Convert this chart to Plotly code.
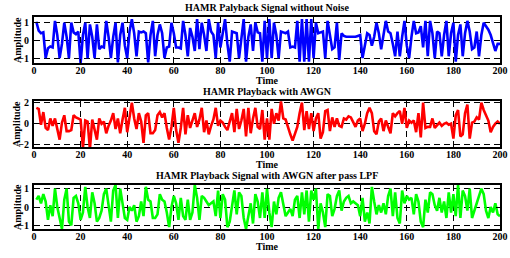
import plotly.graph_objects as go

time = list(range(1, 201))

signal_clean = [
    1.05, 0.55, 0.4, 0.45, -1.0, -0.45, -0.35, -0.4, 1.1, 0.3,
    -1.0, -0.2, 1.0, 0.2, -1.0, 1.0, 0.45, 0.35, 0.5, -1.3,
    0.3, 1.0, -1.0, 0.9, 0.2, -1.0, 0.9, -0.5, -0.35, -0.4,
    1.1, 0.2, -1.0, 0.2, 1.0, -1.25, 0.3, 1.0, -0.3, -1.0,
    0.5, 1.2, 0.4, -0.9, 0.5, 0.45, 0.5, 0.4, -1.25, 0.3,
    1.1, -0.9, 0.3, 0.9, 0.4, -1.0, -0.4, -0.35, 1.0, 0.4,
    -0.4, -0.4, -0.45, 1.1, 0.3, -0.9, 0.7, 0.2, -0.6, 1.2,
    -0.5, 1.0, 0.3, -0.6, 1.2, 0.5, 0.3, -1.0, 1.0, -0.4,
    0.4, 1.2, -0.2, -1.2, 0.5, 0.45, 0.4, -1.0, 0.3, 1.2,
    -1.2, 0.2, 0.9, -0.6, 1.0, 0.45, 0.4, -1.2, 1.1, -1.0,
    1.2, -1.0, 1.0, 0.3, -1.0, 0.5, 0.45, 0.4, 0.5, -0.4,
    -0.35, -0.4, 1.1, -1.2, 1.2, -1.2, 1.2, -1.2, 1.2, -1.0,
    1.0, 0.4, 0.45, 0.5, -1.0, 1.1, 0.3, -0.5, -0.4, 1.0,
    -1.1, 0.4, 0.25, 0.2, 0.2, 0.2, 0.2, 0.2, 0.25, 0.3,
    -1.0, -0.3, 0.4, 0.3, -0.3, 0.2, 1.0, 0.4, -0.5, 0.3,
    1.1, 0.5, 0.4, -0.2, -0.9, 0.5, -0.9, 0.2, 1.1, -0.3,
    -1.0, 0.2, 1.1, 0.4, 0.45, 0.8, -0.4, 1.1, -0.9, 1.1,
    0.4, -1.0, 0.5, 0.4, -0.9, 0.3, 1.1, -0.9, 0.4, 1.0,
    -1.2, 0.3, 0.9, -0.9, 0.4, 1.1, 0.5, -0.5, -0.4, 0.5,
    -0.9, 0.3, 1.0, 0.8, 0.6, 0.3, -0.1, -0.6, -0.2, -0.2,
]

signal_awgn = [
    1.5, 1.4, -0.1, 1.1, -0.4, -0.6, 0.5, -0.2, 0.5, -0.5,
    -1.5, 0.1, 0.8, -0.7, -0.7, -0.6, 0.8, 0.6, 0.5, 0.4,
    -2.3, 0.3, 0.2, -2.4, 0.4, -0.6, -1.5, 0.5, 0.0, 0.2,
    -0.9, -0.2, 0.3, 1.0, -0.5, 0.5, -0.9, 0.4, 1.5, -0.8,
    0.6, 2.0, 0.5, -0.5, 1.0, 0.2, -1.8, 0.8, 1.0, -0.9,
    -0.9, -0.6, 0.8, 1.1, 0.6, 1.0, -0.4, -1.5, -0.3, 1.5,
    -0.6, -1.8, -0.4, 1.5, -1.0, 0.8, -0.4, 0.2, 1.0, -0.3,
    0.4, 1.5, -0.8, 0.3, -1.0, -0.2, 0.4, 1.5, -0.2, 0.3,
    0.1, -0.3, -0.6, 0.2, 1.0, -0.8, 1.4, -0.5, 0.3, 1.4,
    -1.2, 1.5, -0.9, 0.5, 1.5, -0.3, -0.5, 1.3, -1.5, 0.5,
    -1.5, 1.4, 0.0, 1.0, 0.3, 2.1, 0.5, 0.4, -0.4, -1.0,
    -1.6, -1.0, -0.3, 1.0, 2.0, -0.6, 1.2, -0.5, 1.0, -0.7,
    0.5, 1.0, -1.4, -0.8, 1.2, 1.3, -0.7, 0.6, -0.3, 0.5,
    -0.2, -0.3, 0.5, 0.4, 0.7, 0.6, 0.2, -0.3, 0.3, 0.5,
    -0.7, 0.0, 1.0, 1.5, 1.0, -0.7, -1.0, 0.2, 0.5, -0.7,
    0.3, -0.4, -0.9, 1.0, 0.7, 1.0, 1.2, 0.0, 1.5, -0.4,
    0.3, 0.1, 0.3, -0.8, 1.0, -1.3, 2.0, -0.4, -0.3, -0.3,
    0.5, -0.4, -0.1, 0.1, -0.2, 0.0, 0.1, -0.1, 0.0, -1.4,
    0.8, 1.3, -1.2, -1.0, 1.0, 1.8, -1.4, 0.1, 0.2, 0.6,
    0.4, 2.0, 1.3, 0.7, 0.3, -0.8, -0.3, 0.0, 0.2, 0.0,
]

signal_lpf = [
    0.4, 0.6, 0.2, 0.7, 0.3, -0.7, 0.1, -0.5, 1.0, 0.0,
    -0.6, -1.2, 0.4, 1.0, -0.8, -1.0, 0.5, 0.6, 0.2, -0.7,
    -0.3, 1.1, 0.0, -0.6, 0.8, 0.2, -0.8, -0.6, -0.2, 0.7,
    1.0, 0.2, -0.8, 0.9, 1.2, -0.6, 1.0, 0.2, -0.6, -0.7,
    0.0, -0.2, 0.1, -0.8, -0.5, 0.3, -0.5, 1.1, 0.4, 0.3,
    -0.6, -0.6, -0.4, 0.7, 0.4, 0.3, -0.3, -1.1, 0.0, 0.6,
    0.2, -0.7, 0.5, -0.5, -0.7, 0.4, -0.7, -0.3, 1.2, 0.5,
    -0.7, 0.6, 0.5, 0.3, 0.1, 0.2, 0.3, -0.5, 0.9, -0.6,
    0.7, 0.4, -1.1, -0.8, 0.2, 0.9, -0.4, 0.8, 0.6, -0.6,
    -1.2, -0.5, 0.2, -0.9, 0.7, 0.3, -0.6, 0.8, -0.6, 1.0,
    -0.3, -1.1, 0.3, -0.4, 0.5, 0.8, 0.1, -0.5, -0.3, -0.1,
    -0.5, 0.4, 0.6, -0.6, 0.8, -0.4, 0.9, -0.8, 0.9, 0.4,
    1.0, -1.2, 0.2, -0.3, -1.1, 0.7, 0.6, -0.5, -0.1, 0.6,
    0.9, -0.2, 0.3, 0.5, 0.6, 0.2, 0.3, 0.2, 0.1, -0.5,
    0.5, -0.8, -0.3, -0.9, 1.1, 0.3, -0.4, 0.1, -0.3, 0.2,
    -0.4, 0.6, 1.0, -0.5, 0.8, -0.6, -0.9, 0.9, 0.2, 0.6,
    0.4, 0.5, -0.4, 0.7, 0.3, -0.8, -1.1, 0.4, -0.3, 0.8,
    0.7, 0.1, -0.2, 0.5, -0.3, 0.3, -0.6, 0.8, -0.3, 0.7,
    -0.5, 1.2, -0.6, 0.9, 0.6, -0.2, 1.0, -0.6, -0.2, 0.1,
    0.6, 1.0, 0.7, -0.2, -0.6, 0.0, -0.3, 0.2, -0.4, -0.5,
]

titles = [
    "HAMR Palyback Signal without Noise",
    "HAMR Playback with AWGN",
    "HAMR Playback Signal with AWGN after pass LPF",
]
x_ticks = list(range(0, 201, 20))
y_ticks_small = [-1, 0, 1]
y_ticks_large = [-2, 0, 2]

W, H = 510, 258
X0, X1 = 34, 500
boxes = [(17, 63), (101, 147), (185, 229)]
ranges = [[-1.28, 1.32], [-2.2, 2.15], [-1.2, 1.2]]
colors = ["#0000FF", "#FF0000", "#00FF00"]
series = [signal_clean, signal_awgn, signal_lpf]
yticks = [y_ticks_small, y_ticks_large, y_ticks_small]

FONT = "Liberation Serif"
FS = 10

fig = go.Figure()
annotations = []
for i in range(3):
    top, bot = boxes[i]
    xa = "x" if i == 0 else f"x{i+1}"
    ya = "y" if i == 0 else f"y{i+1}"
    fig.add_trace(go.Scatter(
        x=time, y=series[i], mode="lines",
        line=dict(color=colors[i], width=2.6),
        xaxis=xa, yaxis=ya, showlegend=False, hoverinfo="skip",
    ))
    axkey = "" if i == 0 else str(i + 1)
    common = dict(
        showline=True, linecolor="black", linewidth=2, mirror="allticks",
        ticks="inside", ticklen=4, tickwidth=1, tickcolor="black",
        showgrid=True, gridcolor="black", gridwidth=1, griddash="6px,4px",
        zeroline=False, automargin=False,
        tickfont=dict(family=FONT, size=FS, color="black", weight="bold"),
    )
    fig.layout["xaxis" + axkey] = dict(
        domain=[X0 / W, X1 / W], range=[0, 200], tickvals=x_ticks,
        anchor=ya, ticklabelstandoff=-3, **common)
    fig.layout["yaxis" + axkey] = dict(
        domain=[1 - bot / H, 1 - top / H], range=ranges[i], tickvals=yticks[i],
        anchor=xa, ticklabelstandoff=1, **common)
    cx = (X0 + X1) / 2 / W
    annotations.append(dict(
        text=titles[i], x=cx, y=1 - (top - 9.5) / H, xref="paper", yref="paper",
        showarrow=False, xanchor="center", yanchor="middle",
        font=dict(family=FONT, size=FS, color="black", weight="bold")))
    annotations.append(dict(
        text="Time", x=cx, y=1 - (bot + 17.5) / H, xref="paper", yref="paper",
        showarrow=False, xanchor="center", yanchor="middle",
        font=dict(family=FONT, size=FS, color="black", weight="bold")))
    annotations.append(dict(
        text="Amplitude", x=17 / W, y=1 - (top + bot) / 2 / H,
        xref="paper", yref="paper", showarrow=False, textangle=-90,
        xanchor="center", yanchor="middle",
        font=dict(family=FONT, size=FS, color="black", weight="bold")))

fig.update_layout(
    width=W, height=H, margin=dict(l=0, r=0, t=0, b=0, autoexpand=False),
    paper_bgcolor="white", plot_bgcolor="white",
    annotations=annotations,
)
fig.write_html("out.html", config={"displayModeBar": False},
               post_script="document.body.style.margin='0';")
